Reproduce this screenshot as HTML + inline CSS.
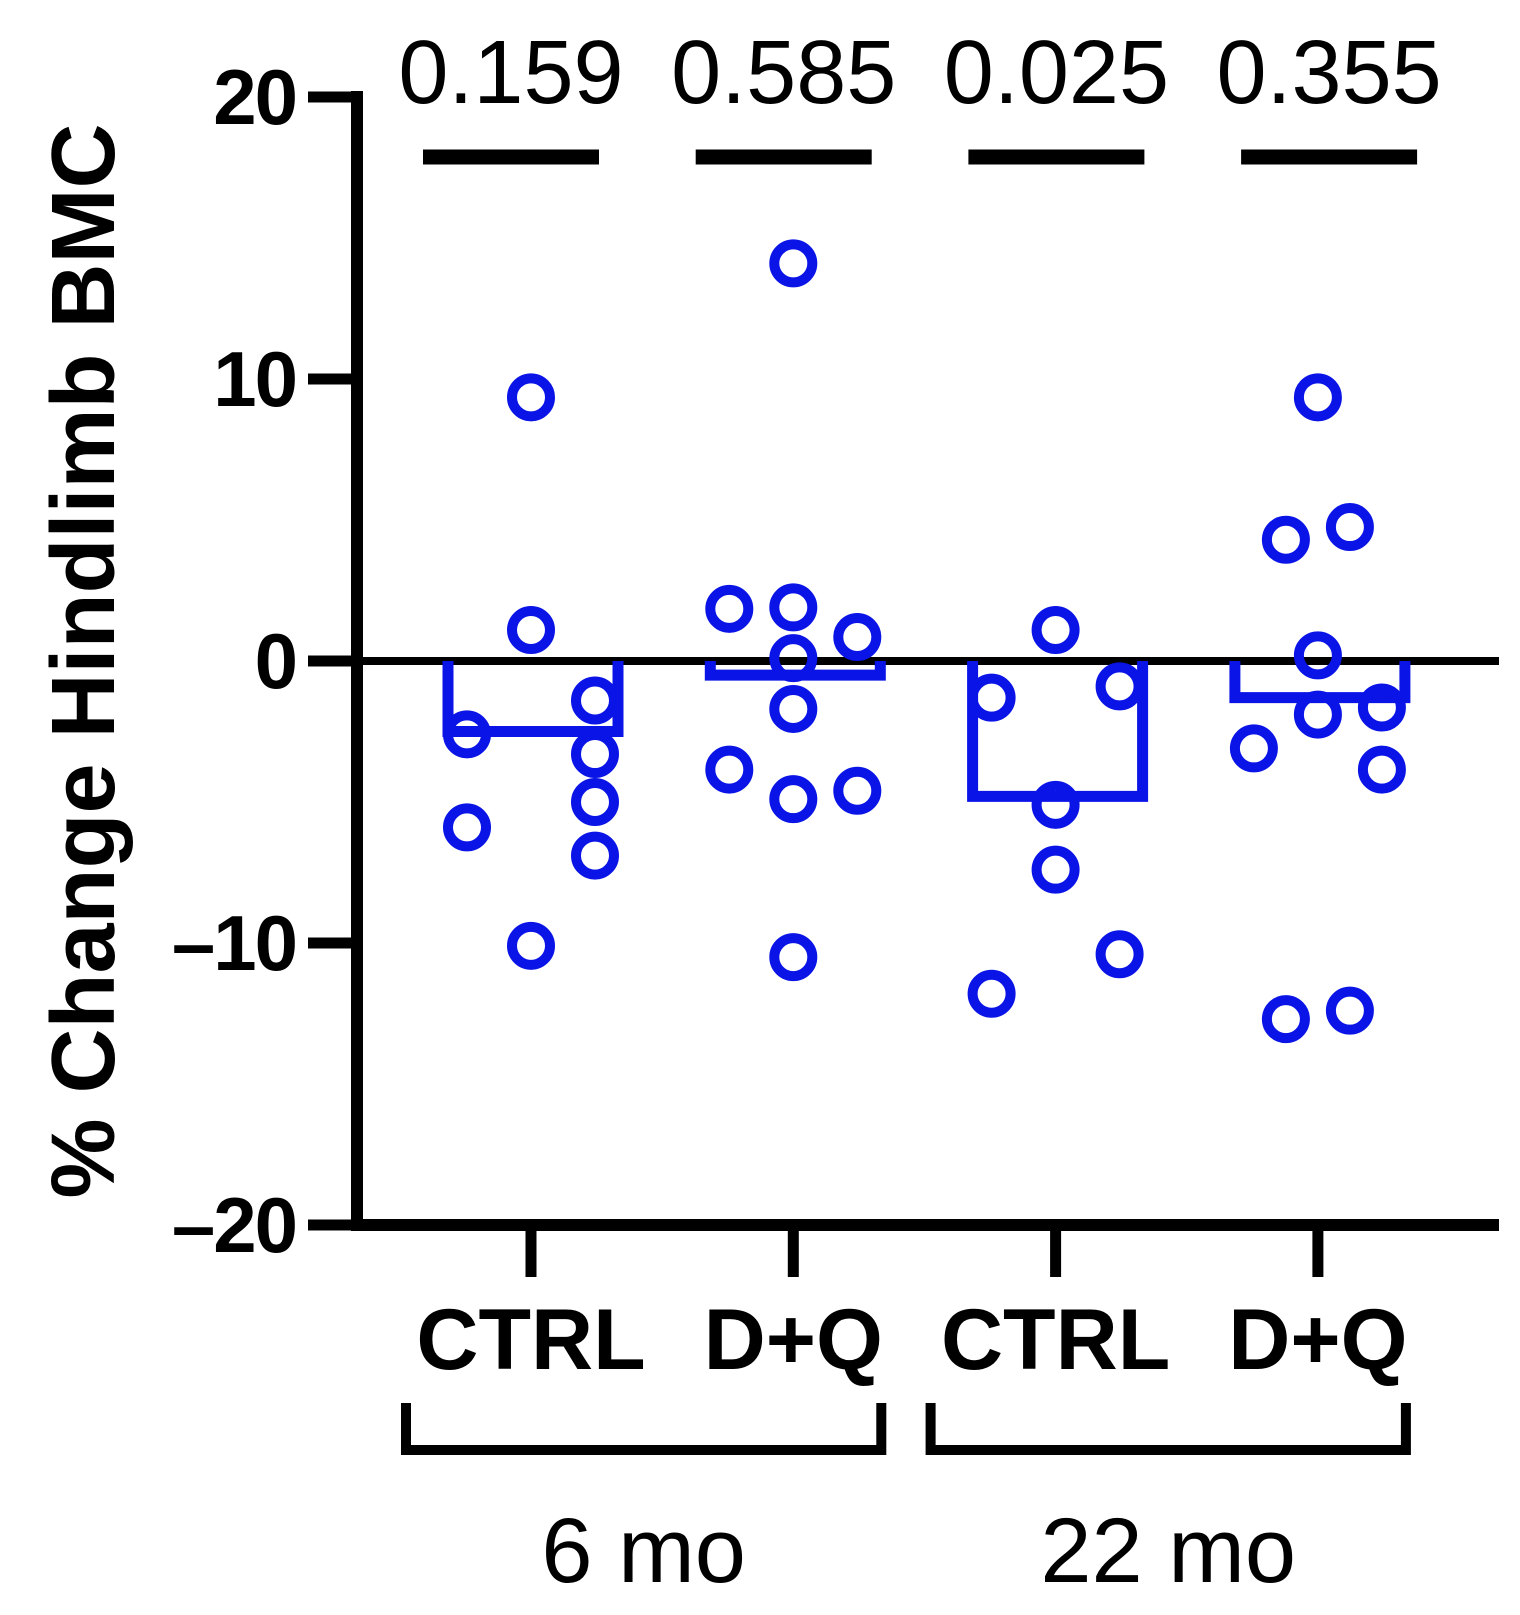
<!DOCTYPE html>
<html><head><meta charset="utf-8"><style>
html,body{margin:0;padding:0;background:#fff;}
svg{display:block;}
text{font-family:"Liberation Sans",Arial,sans-serif;}
</style></head><body>
<svg id="chart" width="1520" height="1615" viewBox="0 0 1520 1615">
<g id="axes"></g>
<g id="marks"></g>
</svg>
<script>
const categories = ["CTRL","D+Q","CTRL","D+Q"];
const groupLabels = ["6 mo","22 mo"];
const pValues = ["0.159","0.585","0.025","0.355"];
const means = [-2.5,-0.5,-4.8,-1.3];
const yTicks = [20,10,0,-10,-20];
const yTickLabels = ["20","10","0","\u201310","\u201320"];
const g1Values = [-2.6,-5.9,9.35,1.1,-10.1,-1.4,-3.3,-5.0,-6.9];
const g1Cols = [-2,-2,0,0,0,2,2,2,2];
const g2Values = [1.85,-3.85,14.1,1.9,0.1,-1.7,-4.9,-10.5,0.85,-4.6];
const g2Cols = [-2,-2,0,0,0,0,0,0,2,2];
const g3Values = [-1.3,-11.8,1.1,-5.1,-7.4,-0.9,-10.4];
const g3Cols = [-2,-2,0,0,0,2,2];
const g4Values = [-3.1,4.3,-12.7,9.35,0.2,-1.9,4.75,-12.4,-1.65,-3.85];
const g4Cols = [-2,-1,-1,0,0,0,1,1,2,2];
const groupValues=[g1Values,g2Values,g3Values,g4Values];
const groupCols=[g1Cols,g2Cols,g3Cols,g4Cols];

const NS="http://www.w3.org/2000/svg";
const y0=97,y1=1225;
function yScale(v){return y0+(20-v)/40*(y1-y0);}
function xScale(i){return 531+i*262.3;}
function pScale(i){return 511+i*272.7;}
const colStep=[32,32,32,32];
function mk(tag,attrs,parent,txt){const e=document.createElementNS(NS,tag);for(const k in attrs)e.setAttribute(k,attrs[k]);if(txt!==undefined)e.textContent=txt;parent.appendChild(e);return e;}
const axes=document.getElementById('axes'),marks=document.getElementById('marks');
const axisX=357;
let e=mk('line',{x1:axisX,y1:yScale(20)-6,x2:axisX,y2:yScale(-20)+6,stroke:'#000','stroke-width':12},axes);

yTicks.forEach((t,i)=>{
 let l=mk('line',{x1:308,y1:yScale(t),x2:axisX,y2:yScale(t),stroke:'#000','stroke-width':11},axes);
 
 let tx=mk('text',{x:296,y:yScale(t)+27,'text-anchor':'end','font-size':78,'font-weight':'bold','letter-spacing':'-2'},axes,yTickLabels[i]);
 
});
e=mk('line',{x1:axisX,y1:yScale(0),x2:1499,y2:yScale(0),stroke:'#000','stroke-width':8},axes);

e=mk('line',{x1:axisX,y1:yScale(-20),x2:1499,y2:yScale(-20),stroke:'#000','stroke-width':12},axes);

categories.forEach((c,i)=>{
 let l=mk('line',{x1:xScale(i),y1:yScale(-20),x2:xScale(i),y2:yScale(-20)+52,stroke:'#000','stroke-width':11},axes);
 
 let t=mk('text',{x:xScale(i),y:1369,'text-anchor':'middle','font-size':86,'font-weight':'bold'},axes,c);
 
 let p=mk('text',{x:pScale(i),y:103,'text-anchor':'middle','font-size':90},axes,pValues[i]);
 
 let pl=mk('line',{x1:pScale(i)-88,y1:157,x2:pScale(i)+88,y2:157,stroke:'#000','stroke-width':15},axes);
 
});
groupLabels.forEach((g,k)=>{
 const xa=xScale(2*k)-125, xb=xScale(2*k+1)+88;
 let b=mk('path',{d:`M${xa},1403 V1450 H${xb} V1403`,fill:'none',stroke:'#000','stroke-width':10},axes);
 
 let t=mk('text',{x:(xa+xb)/2,y:1582,'text-anchor':'middle','font-size':92},axes,g);
 
});
e=mk('text',{x:0,y:0,transform:`translate(114,${yScale(0)}) rotate(-90)`,'text-anchor':'middle','font-size':90,'font-weight':'bold'},axes,'% Change Hindlimb BMC');

const blue='#0a14e6';
means.forEach((m,i)=>{
 const cx=xScale(i)+2, hw=85;
 let r=mk('path',{d:`M${cx-hw},${yScale(0)} V${yScale(m)} H${cx+hw} V${yScale(0)}`,fill:'none',stroke:blue,'stroke-width':11},marks);
 
 groupValues[i].forEach((v,j)=>{
  let c=mk('circle',{cx:xScale(i)+groupCols[i][j]*colStep[i],cy:yScale(v),r:19,fill:'none',stroke:blue,'stroke-width':10},marks);
  
 });
});
</script>
</body></html>
